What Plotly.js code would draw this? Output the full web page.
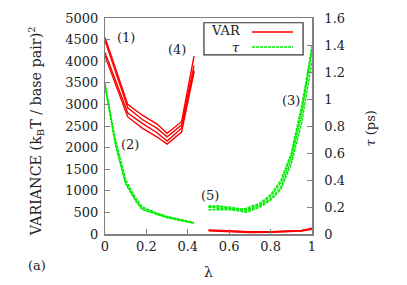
<!DOCTYPE html>
<html>
<head>
<meta charset="utf-8">
<script src="https://cdn.plot.ly/plotly-3.0.1.min.js"></script>
<style>
html,body{margin:0;padding:0;background:#fff;}
#chart{width:407px;height:285px;}
</style>
</head>
<body>
<div id="chart"></div>
<script>
// ---- data ----
// Variance curves (1)/(4), left axis
const lamVarA = [0, 0.11, 0.18, 0.25, 0.30, 0.37, 0.43];
const var1 = [4550, 3000, 2750, 2550, 2330, 2600, 4120];
const var2 = [4480, 2920, 2650, 2450, 2250, 2520, 3900];
const var3 = [4200, 2800, 2560, 2350, 2150, 2450, 3800];
const var4 = [4120, 2710, 2450, 2250, 2080, 2360, 3750];
// Variance curve (5), left axis
const lamVarB = [0.5, 0.6, 0.7, 0.8, 0.9, 0.95, 1.0];
const var5 = [90, 65, 50, 50, 60, 80, 130];
const var6 = [80, 55, 40, 42, 55, 75, 115];
// tau curves (2), right axis
const lamTauA = [0, 0.05, 0.10, 0.15, 0.18, 0.25, 0.30, 0.43];
const tau1 = [1.12, 0.68, 0.38, 0.25, 0.19, 0.15, 0.125, 0.08];
const tau2 = [1.10, 0.66, 0.37, 0.24, 0.18, 0.145, 0.12, 0.08];
const tau3 = [1.09, 0.70, 0.40, 0.26, 0.20, 0.155, 0.13, 0.085];
// tau curves (5)/(3), right axis
const lamTauB = [0.5, 0.55, 0.6, 0.65, 0.68, 0.75, 0.8, 0.85, 0.9, 0.95, 1.0];
const tau4 = [0.20, 0.19, 0.19, 0.18, 0.17, 0.21, 0.26, 0.35, 0.55, 0.88, 1.40];
const tau5 = [0.21, 0.20, 0.20, 0.19, 0.18, 0.22, 0.28, 0.38, 0.58, 0.92, 1.35];
const tau6 = [0.18, 0.18, 0.18, 0.17, 0.16, 0.20, 0.25, 0.33, 0.52, 0.82, 1.28];
const tau7 = [0.20, 0.21, 0.19, 0.18, 0.19, 0.23, 0.29, 0.40, 0.60, 0.95, 1.38];
// ticks
const xTicks = [0, 0.2, 0.4, 0.6, 0.8, 1];
const xTickText = ["0", "0.2", "0.4", "0.6", "0.8", "1"];
const yTicks = [0, 500, 1000, 1500, 2000, 2500, 3000, 3500, 4000, 4500, 5000];
const yTickText = ["0", "500", "1000", "1500", "2000", "2500", "3000", "3500", "4000", "4500", "5000"];
const y2Ticks = [0, 0.2, 0.4, 0.6, 0.8, 1, 1.2, 1.4, 1.6];
const y2TickText = ["0", "0.2", "0.4", "0.6", "0.8", "1", "1.2", "1.4", "1.6"];
// titles and curve labels
const xTitle = 'λ';
const yTitle = 'VARIANCE (k<sub>B</sub>T / base pair)<sup>2</sup>';
const y2Title = '<i>τ</i> (ps)';
const labelText = ["(1)", "(2)", "(3)", "(4)", "(5)"];
const labelX = [0.10, 0.12, 0.90, 0.35, 0.507];
const labelY = [4560, 2080, 3100, 4260, 880];

const RED = '#ff0000', GREEN = '#00ee00';
const FONT = "DejaVu Serif";
const TXT = '#222';
const FS = 13;
const traces = [];
[var1, var2, var3, var4].forEach(v => traces.push({x: lamVarA, y: v, mode: 'lines', line: {color: RED, width: 1.4}, yaxis: 'y'}));
[var5, var6].forEach(v => traces.push({x: lamVarB, y: v, mode: 'lines', line: {color: RED, width: 1.8}, yaxis: 'y'}));
[tau1, tau2, tau3].forEach(v => traces.push({x: lamTauA, y: v, mode: 'lines', line: {color: GREEN, width: 1.5, dash: '3px,1px'}, yaxis: 'y2'}));
[tau4, tau5, tau6, tau7].forEach(v => traces.push({x: lamTauB, y: v, mode: 'lines', line: {color: GREEN, width: 1.4, dash: '3px,1px'}, yaxis: 'y2'}));

const ann = (x, y, text, opts) => Object.assign({x: x, y: y, xref: 'paper', yref: 'paper', xanchor: 'center', yanchor: 'middle', text: text, showarrow: false, font: {family: FONT, size: FS, color: TXT}}, opts || {});
const annotations = labelText.map((t, i) => ({x: labelX[i], y: labelY[i], xref: 'x', yref: 'y', xanchor: 'center', yanchor: 'middle', text: t, showarrow: false, font: {family: FONT, size: FS, color: TXT}}));
annotations.push(ann(-0.33, -0.148, '(a)'));
annotations.push(ann(0.667, 0.94, 'VAR', {xanchor: 'right'}));
annotations.push(ann(0.66, 0.865, '<i>τ</i>', {xanchor: 'right'}));
annotations.push(ann(0.5, -0.178, xTitle, {font: {family: FONT, size: FS + 1, color: TXT}}));
annotations.push(ann(-0.329, 0.475, yTitle, {textangle: -90, font: {family: FONT, size: 14.3, color: TXT}}));
annotations.push(ann(1.282, 0.49, y2Title, {textangle: -90, font: {family: FONT, size: FS, color: TXT}}));

const shapes = [
  {type: 'rect', xref: 'paper', yref: 'paper', x0: 0.478, x1: 0.957, y0: 0.829, y1: 0.978, line: {color: '#333', width: 1.2}, fillcolor: 'rgba(0,0,0,0)'},
  {type: 'line', xref: 'paper', yref: 'paper', x0: 0.710, x1: 0.908, y0: 0.935, y1: 0.935, line: {color: RED, width: 1.4}},
  {type: 'line', xref: 'paper', yref: 'paper', x0: 0.710, x1: 0.908, y0: 0.866, y1: 0.866, line: {color: GREEN, width: 1.4, dash: '3px,1px'}}
];

const axisCommon = {showgrid: false, zeroline: false, showline: true, linecolor: '#808080', linewidth: 1.5,
  ticks: 'inside', ticklen: 5, tickcolor: '#808080', tickwidth: 1, tickfont: {family: FONT, size: FS, color: TXT}};

const layout = {
  width: 407, height: 285,
  margin: {l: 105, r: 95, t: 18, b: 51},
  paper_bgcolor: '#fff', plot_bgcolor: '#fff',
  font: {family: FONT, color: TXT, size: FS},
  showlegend: false,
  xaxis: Object.assign({}, axisCommon, {range: [0, 1], tickvals: xTicks, ticktext: xTickText, mirror: true}),
  yaxis: Object.assign({}, axisCommon, {range: [0, 5000], tickvals: yTicks, ticktext: yTickText.map(t => t + '\u2009')}),
  yaxis2: Object.assign({}, axisCommon, {range: [0, 1.6], tickvals: y2Ticks, ticktext: y2TickText.map(t => '\u00a0\u00a0' + t), overlaying: 'y', side: 'right'}),
  annotations: annotations,
  shapes: shapes
};

Plotly.newPlot('chart', traces, layout, {staticPlot: true, displayModeBar: false});
</script>
</body>
</html>
